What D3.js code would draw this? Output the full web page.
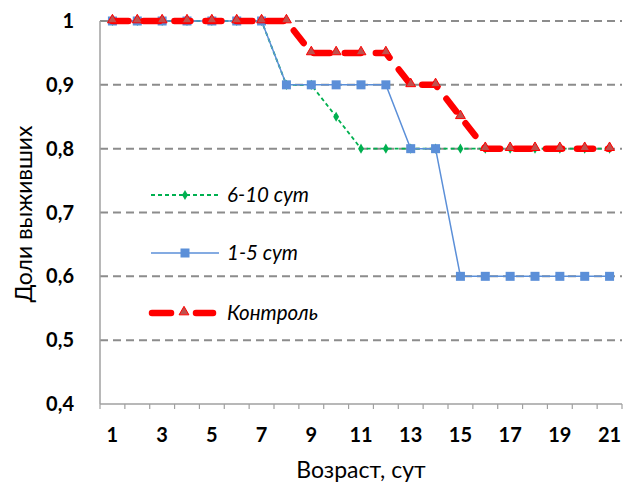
<!DOCTYPE html>
<html>
<head>
<meta charset="utf-8">
<script src="https://cdn.jsdelivr.net/npm/d3@7"></script>
<style>
  body { margin: 0; background: #fff; }
  text { font-family: Lato, "Open Sans", sans-serif; }
</style>
</head>
<body>
<div id="chart"></div>
<script>
// days of age
const days = d3.range(1, 22);
// survival fractions
const series610 = [1,1,1,1,1,1,1,0.9,0.9,0.85,0.8,0.8,0.8,0.8,0.8,0.8,0.8,0.8,0.8,0.8,0.8];
const series15  = [1,1,1,1,1,1,1,0.9,0.9,0.9,0.9,0.9,0.8,0.8,0.6,0.6,0.6,0.6,0.6,0.6,0.6];
const seriesCtl = [1,1,1,1,1,1,1,1,0.95,0.95,0.95,0.95,0.9,0.9,0.85,0.8,0.8,0.8,0.8,0.8,0.8];
const yTicks = [0.4, 0.5, 0.6, 0.7, 0.8, 0.9, 1];
const seriesNames = ["6-10 сут", "1-5 сут", "Контроль"];

const width = 625, height = 486;
const plotLeft = 100, plotRight = 622, plotTop = 21, plotBottom = 404;

const svg = d3.select("#chart").append("svg")
  .attr("width", width)
  .attr("height", height);

//category axis
const x = d3.scaleBand().domain(days).range([plotLeft, plotRight]);
const y = d3.scaleLinear().domain([0.4, 1]).range([plotBottom, plotTop]);
const cx = d => x(d) + x.bandwidth() / 2;

// gridlines
svg.append("g").selectAll("line")
  .data(yTicks.filter(t => t > 0.4))
  .enter().append("line")
  .attr("x1", plotLeft).attr("x2", plotRight)
  .attr("y1", d => y(d)).attr("y2", d => y(d))
  .attr("stroke", "#8c8c8c")
  .attr("stroke-width", 2)
  .attr("stroke-dasharray", "8,5");

// axes lines
svg.append("line")
  .attr("x1", plotLeft).attr("x2", plotLeft)
  .attr("y1", plotTop).attr("y2", plotBottom)
  .attr("stroke", "#a0a0a0").attr("stroke-width", 1.5);
svg.append("line")
  .attr("x1", plotLeft).attr("x2", plotRight)
  .attr("y1", plotBottom).attr("y2", plotBottom)
  .attr("stroke", "#a0a0a0").attr("stroke-width", 1.5);

// x tick marks at category boundaries
svg.append("g").selectAll("line")
  .data(days.concat([22]))
  .enter().append("line")
  .attr("x1", d => plotLeft + (d - 1) * x.step())
  .attr("x2", d => plotLeft + (d - 1) * x.step())
  .attr("y1", plotBottom).attr("y2", plotBottom + 5)
  .attr("stroke", "#a0a0a0").attr("stroke-width", 1.2);

// y tick labels
svg.append("g").selectAll("text")
  .data(yTicks)
  .enter().append("text")
  .attr("x", 74)
  .attr("y", d => y(d) + 7)
  .attr("text-anchor", "end")
  .attr("font-size", 20)
  .attr("font-weight", "bold")
  .text(d => d === 1 ? "1" : String(d).replace(".", ","));

// x tick labels
svg.append("g").selectAll("text")
  .data(days.filter(d => d % 2 === 1))
  .enter().append("text")
  .attr("x", d => cx(d))
  .attr("y", 442)
  .attr("text-anchor", "middle")
  .attr("font-size", 20)
  .attr("font-weight", "bold")
  .text(d => d);

// axis titles
svg.append("text")
  .attr("x", 361).attr("y", 478)
  .attr("text-anchor", "middle")
  .attr("font-size", 23)
  .text("Возраст, сут");
svg.append("text")
  .attr("transform", "translate(32,214) rotate(-90)")
  .attr("text-anchor", "middle")
  .attr("font-size", 23)
  .text("Доли выживших");

const line = d3.line()
  .x((d, i) => cx(days[i]))
  .y(d => y(d));

// 6-10
svg.append("path")
  .attr("d", line(series610))
  .attr("fill", "none")
  .attr("stroke", "#00b050")
  .attr("stroke-width", 1.8)
  .attr("stroke-dasharray", "4,3");
svg.append("g").selectAll("path")
  .data(series610)
  .enter().append("path")
  .attr("d", d3.symbol(d3.symbolDiamond, 30))
  .attr("transform", (d, i) => "translate(" + cx(days[i]) + "," + y(d) + ")")
  .attr("fill", "#00b050");

// 1-5
svg.append("path")
  .attr("d", line(series15))
  .attr("fill", "none")
  .attr("stroke", "#5b8fd8")
  .attr("stroke-width", 1.5);
svg.append("g").selectAll("rect")
  .data(series15)
  .enter().append("rect")
  .attr("x", (d, i) => cx(days[i]) - 4.5)
  .attr("y", d => y(d) - 4.5)
  .attr("width", 9).attr("height", 9)
  .attr("fill", "#5b8fd8");

// control
svg.append("path")
  .attr("d", line(seriesCtl))
  .attr("fill", "none")
  .attr("stroke", "#ff0000")
  .attr("stroke-width", 6.5)
  .attr("stroke-linecap", "round")
  .attr("stroke-dasharray", "16,15");
svg.append("g").selectAll("path")
  .data(seriesCtl)
  .enter().append("path")
  .attr("d", d3.symbol(d3.symbolTriangle, 42))
  .attr("transform", (d, i) => "translate(" + cx(days[i]) + "," + (y(d) - 1) + ")")
  .attr("fill", "#c0504d")
  .attr("stroke", "#ff0000")
  .attr("stroke-width", 1);

// legend inside plot
const legendY = [195, 253, 313];
const lg = svg.append("g");
// 6-10
lg.append("line").attr("x1", 151).attr("x2", 219).attr("y1", legendY[0]).attr("y2", legendY[0])
  .attr("stroke", "#00b050").attr("stroke-width", 1.8).attr("stroke-dasharray", "4,3");
lg.append("path").attr("d", d3.symbol(d3.symbolDiamond, 30))
  .attr("transform", "translate(185," + legendY[0] + ")").attr("fill", "#00b050");
// 1-5
lg.append("line").attr("x1", 151).attr("x2", 219).attr("y1", legendY[1]).attr("y2", legendY[1])
  .attr("stroke", "#5b8fd8").attr("stroke-width", 1.5);
lg.append("rect").attr("x", 180.5).attr("y", legendY[1] - 4.5).attr("width", 9).attr("height", 9)
  .attr("fill", "#5b8fd8");
// control
lg.append("line").attr("x1", 152).attr("x2", 171).attr("y1", legendY[2]).attr("y2", legendY[2])
  .attr("stroke", "#ff0000").attr("stroke-width", 6.5).attr("stroke-linecap", "round");
lg.append("line").attr("x1", 196).attr("x2", 213).attr("y1", legendY[2]).attr("y2", legendY[2])
  .attr("stroke", "#ff0000").attr("stroke-width", 6.5).attr("stroke-linecap", "round");
lg.append("path").attr("d", d3.symbol(d3.symbolTriangle, 42))
  .attr("transform", "translate(184," + (legendY[2] - 1) + ")")
  .attr("fill", "#c0504d").attr("stroke", "#ff0000").attr("stroke-width", 1);

lg.selectAll("text")
  .data(seriesNames)
  .enter().append("text")
  .attr("x", 227)
  .attr("y", (d, i) => legendY[i] + 7)
  .attr("font-size", 20.5)
  .attr("font-style", "italic")
  .text(d => d);
</script>
</body>
</html>
